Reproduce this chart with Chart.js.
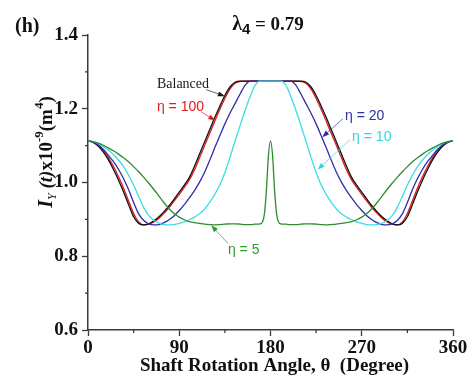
<!DOCTYPE html>
<html lang="en">
<head>
<meta charset="UTF-8">
<title>I_Y(t) vs shaft rotation angle</title>
<script src="https://cdn.jsdelivr.net/npm/chart.js"></script>
<style>
  body { margin: 0; background: #fff; overflow: hidden; }
</style>
</head>
<body>
<canvas id="myChart" width="476" height="378"></canvas>
<script>
// Shaft rotation angle (deg); finer steps around 180 for the eta = 5 peak
const angulo = [
  0, 5, 10, 15, 20, 25, 30, 35, 40, 45, 50, 55, 60, 65, 70, 75, 80, 85, 90, 95,
  100, 105, 110, 115, 120, 125, 130, 135, 140, 145, 150, 155, 160, 165, 170,
  172, 174, 176, 178, 180, 182, 184, 186, 188,
  190, 195, 200, 205, 210, 215, 220, 225, 230, 235, 240, 245, 250, 255, 260, 265,
  270, 275, 280, 285, 290, 295, 300, 305, 310, 315, 320, 325, 330, 335, 340, 345,
  350, 355, 360
];

// I_Y(t) x 1e-9 (m^4)
const balanced = [
  1.113, 1.109, 1.099, 1.083, 1.062, 1.036, 1.007, 0.975, 0.940, 0.907, 0.889, 0.885, 0.888, 0.896, 0.907, 0.921, 0.937, 0.955, 0.974, 0.993,
  1.014, 1.044, 1.077, 1.110, 1.143, 1.176, 1.207, 1.236, 1.259, 1.272, 1.275, 1.275, 1.275, 1.275, 1.275,
  1.275, 1.275, 1.275, 1.275, 1.275, 1.275, 1.275, 1.275, 1.275,
  1.275, 1.275, 1.275, 1.275, 1.275, 1.272, 1.259, 1.236, 1.207, 1.176, 1.143, 1.110, 1.077, 1.044, 1.014, 0.993,
  0.974, 0.955, 0.937, 0.921, 0.907, 0.896, 0.888, 0.885, 0.889, 0.907, 0.940, 0.975, 1.007, 1.036, 1.062, 1.083,
  1.099, 1.109, 1.113
];
const eta100 = [
  1.113, 1.110, 1.102, 1.088, 1.068, 1.044, 1.016, 0.985, 0.950, 0.916, 0.893, 0.885, 0.887, 0.893, 0.903, 0.917, 0.932, 0.950, 0.968, 0.987,
  1.007, 1.034, 1.067, 1.100, 1.133, 1.166, 1.198, 1.228, 1.253, 1.269, 1.274, 1.275, 1.275, 1.275, 1.275,
  1.275, 1.275, 1.275, 1.275, 1.275, 1.275, 1.275, 1.275, 1.275,
  1.275, 1.275, 1.275, 1.275, 1.274, 1.269, 1.253, 1.228, 1.198, 1.166, 1.133, 1.100, 1.067, 1.034, 1.007, 0.987,
  0.968, 0.950, 0.932, 0.917, 0.903, 0.893, 0.887, 0.885, 0.893, 0.916, 0.950, 0.985, 1.016, 1.044, 1.068, 1.088,
  1.102, 1.110, 1.113
];
const eta20 = [
  1.113, 1.110, 1.102, 1.090, 1.074, 1.057, 1.036, 1.011, 0.981, 0.946, 0.915, 0.897, 0.888, 0.885, 0.886, 0.891, 0.899, 0.910, 0.924, 0.940,
  0.958, 0.978, 1.001, 1.028, 1.060, 1.094, 1.127, 1.159, 1.188, 1.214, 1.240, 1.264, 1.275, 1.275, 1.275,
  1.275, 1.275, 1.275, 1.275, 1.275, 1.275, 1.275, 1.275, 1.275,
  1.275, 1.275, 1.275, 1.264, 1.240, 1.214, 1.188, 1.159, 1.127, 1.094, 1.060, 1.028, 1.001, 0.978, 0.958, 0.940,
  0.924, 0.910, 0.899, 0.891, 0.886, 0.885, 0.888, 0.897, 0.915, 0.946, 0.981, 1.011, 1.036, 1.057, 1.074, 1.090,
  1.102, 1.110, 1.113
];
const eta10 = [
  1.113, 1.111, 1.106, 1.098, 1.088, 1.076, 1.061, 1.043, 1.020, 0.993, 0.962, 0.932, 0.910, 0.897, 0.890, 0.886, 0.885, 0.886, 0.889, 0.893,
  0.899, 0.906, 0.915, 0.928, 0.946, 0.968, 0.993, 1.027, 1.068, 1.112, 1.155, 1.196, 1.234, 1.265, 1.275,
  1.275, 1.275, 1.275, 1.275, 1.275, 1.275, 1.275, 1.275, 1.275,
  1.275, 1.265, 1.234, 1.196, 1.155, 1.112, 1.068, 1.027, 0.993, 0.968, 0.946, 0.928, 0.915, 0.906, 0.899, 0.893,
  0.889, 0.886, 0.885, 0.886, 0.890, 0.897, 0.910, 0.932, 0.962, 0.993, 1.020, 1.043, 1.061, 1.076, 1.088, 1.098,
  1.106, 1.111, 1.113
];
const eta5 = [
  1.113, 1.111, 1.107, 1.101, 1.094, 1.086, 1.077, 1.067, 1.056, 1.043, 1.029, 1.014, 0.998, 0.981, 0.963, 0.945, 0.929, 0.916, 0.906, 0.899,
  0.894, 0.891, 0.889, 0.887, 0.886, 0.885, 0.886, 0.887, 0.888, 0.888, 0.887, 0.886, 0.886, 0.887, 0.888,
  0.892, 0.915, 0.980, 1.075, 1.113, 1.075, 0.980, 0.915, 0.892,
  0.888, 0.887, 0.886, 0.886, 0.887, 0.888, 0.888, 0.887, 0.886, 0.885, 0.886, 0.887, 0.889, 0.891, 0.894, 0.899,
  0.906, 0.916, 0.929, 0.945, 0.963, 0.981, 0.998, 1.014, 1.029, 1.043, 1.056, 1.067, 1.077, 1.086, 1.094, 1.101,
  1.107, 1.111, 1.113
];

const ticksX = [0, 90, 180, 270, 360];
const ticksY = [0.6, 0.8, 1.0, 1.2, 1.4];
const menoresX = [45, 135, 225, 315];
const menoresY = [0.7, 0.9, 1.1, 1.3];

const serif = '"Liberation Serif", "Times New Roman", serif';
const sans = '"Liberation Sans", Arial, sans-serif';

// curve labels: text anchor and leader arrow, in data units (angle, I_Y)
const rotulos = [
  { texto: 'Balanced', color: '#1a1a1a', font: '14px ' + serif, en: [68, 1.256], desde: [116.5, 1.252], hasta: [135, 1.234] },
  { texto: 'η = 100', color: '#e3191e', font: '14px ' + sans, en: [68, 1.193], desde: [111.5, 1.192], hasta: [125.5, 1.168] },
  { texto: 'η = 20', color: '#2e2ea6', font: '14px ' + sans, en: [253.5, 1.169], desde: [251.5, 1.173], hasta: [231, 1.123] },
  { texto: 'η = 10', color: '#2fd6e0', font: '14px ' + sans, en: [260.5, 1.112], desde: [258.5, 1.116], hasta: [226.5, 1.035] },
  { texto: 'η = 5', color: '#2f9a2f', font: '14px ' + sans, en: [138, 0.806], desde: [138, 0.835], hasta: [121.5, 0.884] }
];

function serie(valores, color) {
  return {
    data: angulo.map((a, i) => ({ x: a, y: valores[i] })),
    borderColor: color,
    borderWidth: 1.3,
    pointRadius: 0,
    fill: false,
    cubicInterpolationMode: 'monotone'
  };
}

function flecha(ctx, x0, y0, x1, y1, color) {
  const ang = Math.atan2(y1 - y0, x1 - x0);
  ctx.strokeStyle = color;
  ctx.globalAlpha = 0.75;
  ctx.lineWidth = 0.9;
  ctx.beginPath();
  ctx.moveTo(x0, y0);
  ctx.lineTo(x1 - 4 * Math.cos(ang), y1 - 4 * Math.sin(ang));
  ctx.stroke();
  ctx.globalAlpha = 1;
  ctx.fillStyle = color;
  ctx.beginPath();
  ctx.moveTo(x1, y1);
  ctx.lineTo(x1 - 7 * Math.cos(ang) + 2.6 * Math.sin(ang), y1 - 7 * Math.sin(ang) - 2.6 * Math.cos(ang));
  ctx.lineTo(x1 - 7 * Math.cos(ang) - 2.6 * Math.sin(ang), y1 - 7 * Math.sin(ang) + 2.6 * Math.cos(ang));
  ctx.closePath();
  ctx.fill();
}

// draws a run of text pieces with their own font and baseline shift
function textoCompuesto(ctx, piezas, x, y, alinear) {
  let total = 0;
  piezas.forEach(p => { ctx.font = p.font; total += ctx.measureText(p.t).width; });
  let cx = alinear === 'center' ? x - total / 2 : x;
  piezas.forEach(p => {
    ctx.font = p.font;
    ctx.fillText(p.t, cx, y + (p.dy || 0));
    cx += ctx.measureText(p.t).width;
  });
}

const decorado = {
  id: 'decorado',
  afterDraw(chart) {
    const { ctx, chartArea: area, scales: { x, y } } = chart;
    ctx.save();

    // minor ticks
    ctx.strokeStyle = '#3a3a3a';
    ctx.lineWidth = 1.3;
    menoresX.forEach(v => {
      const px = x.getPixelForValue(v);
      ctx.beginPath(); ctx.moveTo(px, area.bottom); ctx.lineTo(px, area.bottom + 3); ctx.stroke();
    });
    menoresY.forEach(v => {
      const py = y.getPixelForValue(v);
      ctx.beginPath(); ctx.moveTo(area.left, py); ctx.lineTo(area.left - 3, py); ctx.stroke();
    });

    // curve labels with arrows
    rotulos.forEach(r => {
      flecha(ctx, x.getPixelForValue(r.desde[0]), y.getPixelForValue(r.desde[1]),
        x.getPixelForValue(r.hasta[0]), y.getPixelForValue(r.hasta[1]), r.color);
      ctx.fillStyle = r.color;
      ctx.font = r.font;
      ctx.textAlign = 'left';
      ctx.textBaseline = 'alphabetic';
      ctx.fillText(r.texto, x.getPixelForValue(r.en[0]), y.getPixelForValue(r.en[1]));
    });

    ctx.fillStyle = '#111';
    ctx.textAlign = 'left';
    ctx.textBaseline = 'alphabetic';

    // panel tag
    ctx.font = 'bold 20px ' + serif;
    ctx.fillText('(h)', 15, 32);

    // title
    textoCompuesto(ctx, [
      { t: 'λ', font: 'bold 20px ' + serif },
      { t: '4', font: 'bold 15px ' + sans, dy: 4 },
      { t: ' = 0.79', font: 'bold 19px ' + serif }
    ], 268, 30, 'center');

    // x axis title
    ctx.font = 'bold 19px ' + serif;
    ctx.textAlign = 'center';
    ctx.fillText('Shaft Rotation Angle, θ  (Degree)', (area.left + area.right) / 2 + 4, 371);

    // y axis title, rotated
    ctx.textAlign = 'left';
    ctx.translate(52, 152);
    ctx.rotate(-Math.PI / 2);
    textoCompuesto(ctx, [
      { t: 'I', font: 'italic bold 20px ' + serif },
      { t: 'Y', font: 'italic 12px ' + serif, dy: 4 },
      { t: ' (t)', font: 'italic bold 19px ' + serif },
      { t: 'x10', font: 'bold 19px ' + serif },
      { t: '-9', font: 'bold 13px ' + serif, dy: -9 },
      { t: '(m', font: 'bold 19px ' + serif },
      { t: '4', font: 'bold 13px ' + serif, dy: -9 },
      { t: ')', font: 'bold 19px ' + serif }
    ], 0, 0, 'center');

    ctx.restore();
  }
};

const ctx = document.getElementById('myChart').getContext('2d');

new Chart(ctx, {
  type: 'line',
  data: {
    datasets: [
      serie(eta5, '#2f8b2f'),
      serie(eta10, '#3ddde6'),
      serie(eta20, '#2e2ea6'),
      serie(balanced, '#111111'),
      serie(eta100, '#e3191e')
    ]
  },
  options: {
    responsive: false,
    animation: false,
    layout: { padding: { top: 35, right: 23, left: 0, bottom: 0 } },
    plugins: { legend: { display: false }, tooltip: { enabled: false } },
    scales: {
      x: {
        type: 'linear',
        min: 0,
        max: 360,
        afterBuildTicks: s => { s.ticks = ticksX.map(v => ({ value: v })); },
        afterFit: s => { s.height = 48; },
        ticks: {
          color: '#111',
          padding: 1,
          maxRotation: 0,
          font: { family: serif, size: 19, weight: 'bold' }
        },
        grid: { drawOnChartArea: false, tickLength: 6, tickColor: '#3a3a3a', tickWidth: 1.3 },
        border: { color: '#3a3a3a', width: 1.5 }
      },
      y: {
        min: 0.6,
        max: 1.4,
        afterBuildTicks: s => { s.ticks = ticksY.map(v => ({ value: v })); },
        afterFit: s => { s.width = 88; },
        ticks: {
          color: '#111',
          padding: 4,
          callback: v => v.toFixed(1),
          font: { family: serif, size: 19, weight: 'bold' }
        },
        grid: { drawOnChartArea: false, tickLength: 6, tickColor: '#3a3a3a', tickWidth: 1.3 },
        border: { color: '#3a3a3a', width: 1.5 }
      }
    }
  },
  plugins: [decorado]
});
</script>
</body>
</html>
